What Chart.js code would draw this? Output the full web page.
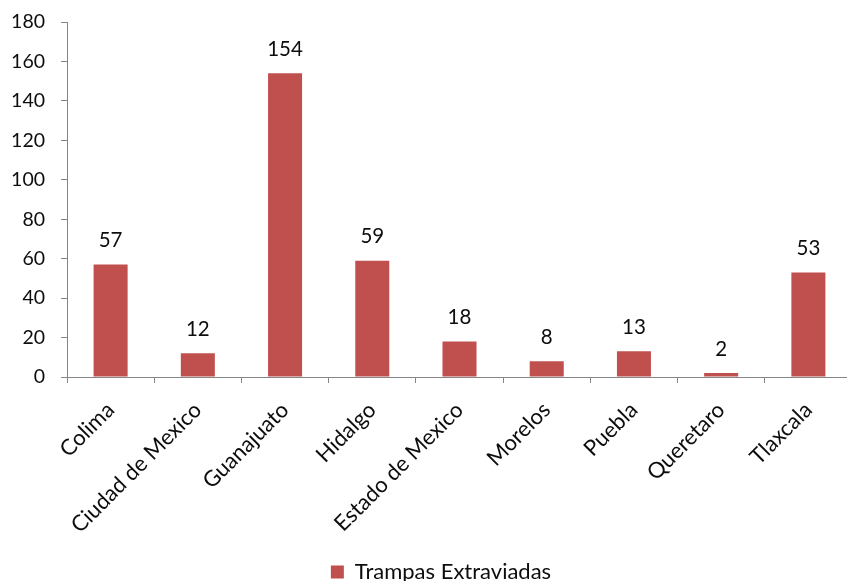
<!DOCTYPE html>
<html>
<head>
<meta charset="utf-8">
<script src="https://cdn.jsdelivr.net/npm/chart.js@4"></script>
<style>
  html, body { margin: 0; padding: 0; background: #fff; overflow: hidden; }
  #wrap { width: 847px; height: 581px; position: relative; overflow: hidden; }
</style>
</head>
<body>
<div id="wrap"><canvas id="c" width="882" height="593"></canvas></div>
<script>
const categories = ["Colima", "Ciudad de Mexico", "Guanajuato", "Hidalgo", "Estado de Mexico", "Morelos", "Puebla", "Queretaro", "Tlaxcala"];
const trampasExtraviadas = [57, 12, 154, 59, 18, 8, 13, 2, 53];
const seriesName = "Trampas Extraviadas";
const yTicks = [0, 20, 40, 60, 80, 100, 120, 140, 160, 180];

const FONT = "Lato, 'Open Sans', sans-serif";
const TEXT = "#0d0d0d";
const AXIS = "#868686";

const dataLabels = {
  id: 'dataLabels',
  afterDatasetsDraw(chart) {
    const ctx = chart.ctx;
    const meta = chart.getDatasetMeta(0);
    ctx.save();
    ctx.font = "20.5px " + FONT;
    ctx.fillStyle = TEXT;
    ctx.textAlign = 'center';
    ctx.textBaseline = 'middle';
    meta.data.forEach((bar, i) => {
      ctx.fillText(String(chart.data.datasets[0].data[i]), bar.x, bar.y - 24);
    });
    ctx.restore();
  }
};

new Chart(document.getElementById('c'), {
  type: 'bar',
  data: {
    labels: categories,
    datasets: [{
      label: seriesName,
      data: trampasExtraviadas,
      backgroundColor: '#C0504D',
      borderColor: '#C0504D',
      borderWidth: 0,
      barPercentage: 0.39,
      categoryPercentage: 1.0
    }]
  },
  options: {
    responsive: false,
    animation: false,
    layout: { padding: { top: 22, left: 30, right: 30, bottom: 0 } },
    plugins: {
      legend: {
        position: 'bottom',
        labels: {
          font: { size: 22, family: FONT },
          color: TEXT,
          boxWidth: 13,
          boxHeight: 13,
          padding: 4
        }
      },
      tooltip: { enabled: false }
    },
    scales: {
      x: {
        grid: { display: true, drawOnChartArea: false, color: AXIS, tickLength: 6, offset: true },
        border: { color: AXIS, width: 1 },
        ticks: {
          font: { size: 22, family: FONT },
          color: TEXT,
          maxRotation: 45,
          minRotation: 45,
          padding: 14,
          autoSkip: false
        },
        afterFit(scale) { scale.height = 180; scale.paddingLeft = 0; scale.paddingRight = 0; }
      },
      y: {
        min: 0,
        max: 180,
        afterBuildTicks(scale) { scale.ticks = yTicks.map(v => ({ value: v })); },
        grid: { display: true, drawOnChartArea: false, color: AXIS, tickLength: 6 },
        border: { color: AXIS, width: 1 },
        ticks: {
          font: { size: 19.5, family: FONT },
          color: TEXT,
          padding: 16
        },
        afterFit(scale) {
          scale.width = 37;
          scale.paddingTop = 0;
          scale.paddingBottom = 0;
          scale._computeLabelArea = function () { return undefined; };
        }
      }
    }
  },
  plugins: [dataLabels]
});
</script>
</body>
</html>
